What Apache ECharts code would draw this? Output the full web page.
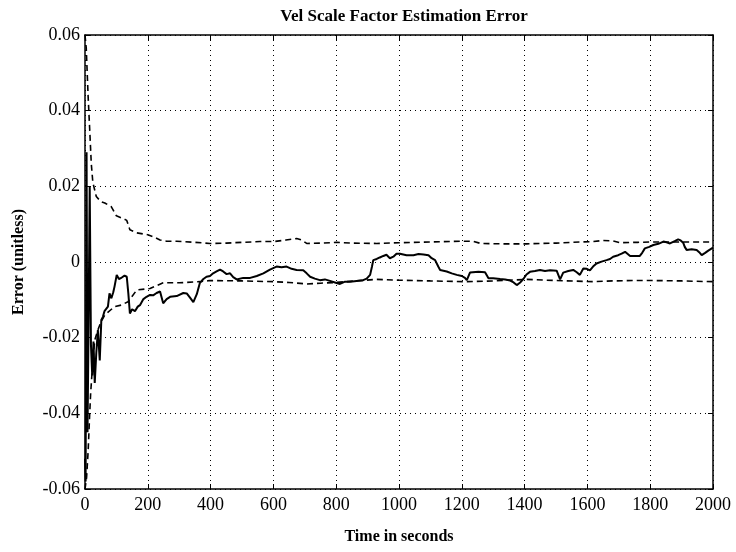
<!DOCTYPE html>
<html>
<head>
<meta charset="utf-8">
<script src="https://cdn.jsdelivr.net/npm/echarts@6/dist/echarts.min.js"></script>
<style>
  html, body { margin: 0; padding: 0; background: #fff; }
  #chart { width: 736px; height: 552px; }
</style>
</head>
<body>
<div id="chart"></div>
<script>
// Estimation error of the velocity scale factor (solid) and its ±1σ bounds (dashed)
const errTime = [0, 2, 5, 8, 11, 15, 19, 23, 27, 31, 36, 41, 47, 52, 57, 62, 67, 73, 78, 84, 90, 94,
  101, 108, 117, 126, 133, 138, 143, 150, 159, 168, 175, 186, 196, 207, 217, 228, 239, 249, 260, 271,
  292, 313, 324, 335, 345, 356, 366, 377, 387, 398, 408, 419, 430, 440, 451, 462, 472, 483, 504, 526,
  547, 568, 589, 610, 626, 642, 658, 674, 695, 706, 717, 732, 748, 764, 780, 796, 812, 828, 844, 865,
  886, 897, 908, 914, 918, 929, 939, 950, 960, 971, 982, 992, 1003, 1024, 1046, 1062, 1078, 1094, 1104,
  1115, 1125, 1131, 1152, 1168, 1184, 1200, 1210, 1216, 1226, 1232, 1253, 1274, 1285, 1300, 1322, 1338,
  1354, 1365, 1375, 1385, 1396, 1406, 1417, 1433, 1449, 1465, 1481, 1502, 1513, 1523, 1539, 1555, 1566,
  1576, 1587, 1598, 1608, 1618, 1629, 1645, 1661, 1672, 1682, 1698, 1709, 1720, 1736, 1752, 1767, 1775,
  1783, 1797, 1810, 1826, 1842, 1852, 1863, 1878, 1889, 1897, 1905, 1910, 1916, 1932, 1948, 1956, 1964,
  1975, 1985, 2000];
const errValue = [-0.052, -0.058, 0.029, -0.045, -0.020, 0.020, -0.022, -0.030, -0.021, -0.032, -0.024,
  -0.018, -0.026, -0.0153, -0.0145, -0.013, -0.0135, -0.0118, -0.0083, -0.0096, -0.008, -0.0065,
  -0.0034, -0.0045, -0.0041, -0.0036, -0.0039, -0.0083, -0.0136, -0.0125, -0.013, -0.0118, -0.0114,
  -0.0098, -0.0092, -0.0087, -0.0088, -0.0082, -0.0078, -0.0109, -0.0098, -0.0092, -0.009, -0.0082,
  -0.0083, -0.0095, -0.0106, -0.0085, -0.0055, -0.0045, -0.0039, -0.0037, -0.003, -0.0025, -0.002,
  -0.0025, -0.0032, -0.003, -0.004, -0.0046, -0.0042, -0.0042, -0.0037, -0.003, -0.002, -0.0012,
  -0.0014, -0.0012, -0.0018, -0.0021, -0.0022, -0.003, -0.0039, -0.0044, -0.0048, -0.0046, -0.005,
  -0.0054, -0.0058, -0.0052, -0.0052, -0.005, -0.0048, -0.0044, -0.0034, -0.0012, 0.0005, 0.0008,
  0.0012, 0.0016, 0.0019, 0.0010, 0.0014, 0.0022, 0.0022, 0.0018, 0.0018, 0.0021, 0.002, 0.0018,
  0.001, 0.0005, -0.0012, -0.0021, -0.0025, -0.003, -0.0034, -0.0037, -0.0042, -0.0048, -0.0028,
  -0.0026, -0.0026, -0.0027, -0.0043, -0.0043, -0.0045, -0.0046, -0.0049, -0.0054, -0.0061, -0.0055,
  -0.0045, -0.0033, -0.0026, -0.0024, -0.0021, -0.0024, -0.0022, -0.0023, -0.0046, -0.0028, -0.0024,
  -0.0021, -0.0027, -0.0034, -0.0017, -0.0018, -0.0022, -0.0012, -0.0004, 0.0001, 0.0005, 0.0008,
  0.0014, 0.0018, 0.0022, 0.0027, 0.0016, 0.0016, 0.0016, 0.0025, 0.0036, 0.004, 0.0045, 0.0048,
  0.0054, 0.0052, 0.0049, 0.0055, 0.006, 0.0057, 0.0051, 0.004, 0.0032, 0.0034, 0.0032, 0.0026,
  0.0018, 0.0024, 0.003, 0.0038];

const upperTime = [0, 4, 10, 15, 20, 25, 36, 50, 63, 84, 100, 121, 133, 143, 165, 200, 217, 239, 260,
  292, 350, 398, 450, 500, 557, 600, 640, 674, 690, 706, 760, 801, 850, 929, 1000, 1100, 1200, 1236,
  1260, 1330, 1407, 1500, 1580, 1619, 1650, 1680, 1704, 1760, 1810, 1900, 2000];
const upperValue = [0.06, 0.0565, 0.0437, 0.035, 0.026, 0.021, 0.0173, 0.016, 0.0156, 0.0146, 0.0122,
  0.0115, 0.011, 0.0085, 0.0077, 0.0072, 0.0067, 0.0058, 0.0055, 0.0055, 0.0052, 0.0049, 0.005, 0.0052,
  0.0054, 0.0054, 0.0058, 0.0062, 0.0058, 0.0049, 0.005, 0.0052, 0.005, 0.0049, 0.0051, 0.0053, 0.0055,
  0.0055, 0.0049, 0.0048, 0.0048, 0.005, 0.0053, 0.0054, 0.0057, 0.0056, 0.0051, 0.0052, 0.0053,
  0.0053, 0.0053];

const lowerTime = [0, 5, 10, 15, 18, 25, 31, 41, 50, 63, 94, 115, 137, 165, 207, 249, 300, 366, 398,
  500, 600, 650, 706, 750, 801, 860, 929, 1000, 1100, 1215, 1300, 1407, 1500, 1619, 1680, 1750, 1810,
  1900, 2000];
const lowerValue = [-0.06, -0.057, -0.05, -0.04, -0.0347, -0.026, -0.0206, -0.018, -0.016, -0.014,
  -0.0118, -0.0114, -0.0105, -0.0074, -0.007, -0.0055, -0.0055, -0.0052, -0.0049, -0.005, -0.0052,
  -0.0054, -0.0058, -0.0056, -0.0054, -0.005, -0.0046, -0.0048, -0.005, -0.0052, -0.005, -0.0046,
  -0.0049, -0.0052, -0.005, -0.0049, -0.0049, -0.005, -0.0052];

const xTicks = { min: 0, max: 2000, interval: 200 };
const yTicks = { min: -0.06, max: 0.06, interval: 0.02 };

const pairs = (xs, ys) => xs.map((x, i) => [x, ys[i]]);

const FONT = "'Liberation Serif', 'DejaVu Serif', serif";
const INK = '#000';

const dottedGrid = { show: true, lineStyle: { color: INK, width: 1, type: [1, 4] } };

function axisCommon(extra) {
  return Object.assign({
    type: 'value',
    axisLine: { show: true, onZero: false, lineStyle: { color: INK, width: 1.5 } },
    axisTick: { show: true, inside: true, length: 5, lineStyle: { color: INK, width: 1 } }
  }, extra);
}

const fmtX = v => String(Math.round(v));
const fmtY = v => {
  const r = Math.round(v * 100) / 100;
  return r === 0 ? '0' : r.toFixed(2);
};

const chart = echarts.init(document.getElementById('chart'), null, { renderer: 'canvas' });
chart.setOption({
  animation: false,
  backgroundColor: '#fff',
  title: {
    text: 'Vel Scale Factor Estimation Error',
    left: 399, top: 3, textAlign: 'center',
    textStyle: { fontFamily: FONT, fontSize: 17, fontWeight: 'bold', color: INK }
  },
  grid: { left: 85, right: 23, top: 35, bottom: 63, containLabel: false },
  xAxis: [
    axisCommon(Object.assign({}, xTicks, {
      position: 'bottom',
      name: 'Time in seconds', nameLocation: 'middle', nameGap: 40,
      nameTextStyle: { fontFamily: FONT, fontSize: 16, fontWeight: 'bold', color: INK },
      axisLabel: { fontFamily: FONT, fontSize: 18, color: INK, margin: 7, formatter: fmtX },
      splitLine: dottedGrid
    })),
    axisCommon(Object.assign({}, xTicks, {
      position: 'top', axisLabel: { show: false }, splitLine: { show: false }
    }))
  ],
  yAxis: [
    axisCommon(Object.assign({}, yTicks, {
      position: 'left',
      name: 'Error (unitless)', nameLocation: 'middle', nameGap: 58, nameRotate: 90,
      nameTextStyle: { fontFamily: FONT, fontSize: 16, fontWeight: 'bold', color: INK },
      axisLabel: { fontFamily: FONT, fontSize: 18, color: INK, margin: 5, formatter: fmtY },
      splitLine: dottedGrid
    })),
    axisCommon(Object.assign({}, yTicks, {
      position: 'right', axisLabel: { show: false }, splitLine: { show: false }
    }))
  ],
  series: [
    {
      name: 'error', type: 'line', showSymbol: false, symbol: 'none',
      data: pairs(errTime, errValue),
      lineStyle: { color: INK, width: 2 }, z: 3
    },
    {
      name: 'upper', type: 'line', showSymbol: false, symbol: 'none',
      data: pairs(upperTime, upperValue),
      lineStyle: { color: INK, width: 1.6, type: [6, 4] }, z: 2
    },
    {
      name: 'lower', type: 'line', showSymbol: false, symbol: 'none',
      data: pairs(lowerTime, lowerValue),
      lineStyle: { color: INK, width: 1.6, type: [6, 4] }, z: 2
    }
  ]
});
</script>
</body>
</html>
